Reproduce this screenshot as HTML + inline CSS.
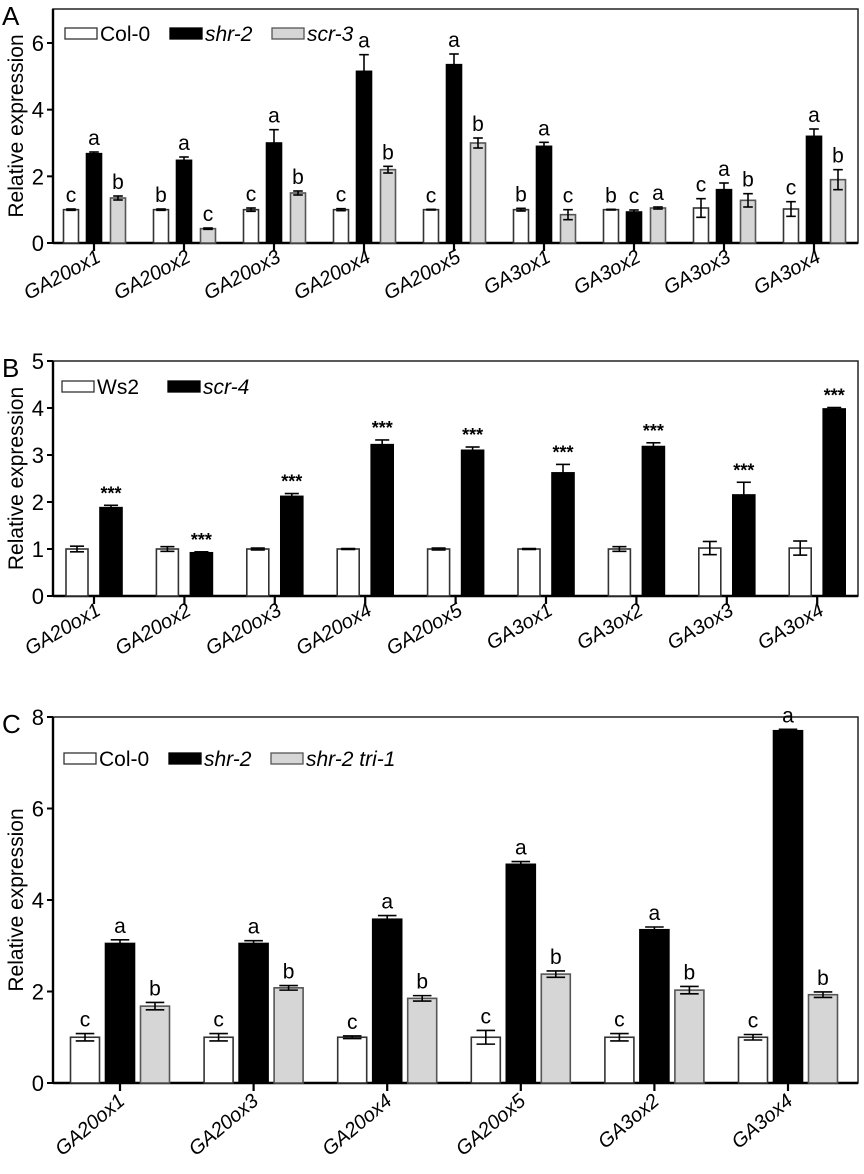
<!DOCTYPE html>
<html><head><meta charset="utf-8"><style>
body{margin:0;background:#fff;}
svg text{font-family:"Liberation Sans",sans-serif;fill:#000;}
</style></head><body>
<svg id="fig" width="864" height="1169" xmlns="http://www.w3.org/2000/svg"></svg>
<script>
const catsA=["GA20ox1","GA20ox2","GA20ox3","GA20ox4","GA20ox5","GA3ox1","GA3ox2","GA3ox3","GA3ox4"];
const aCol=[1,1,1,1,1,1,1,1.05,1.02];
const aColErr=[0.02,0.02,0.05,0.03,0.01,0.04,0.01,0.28,0.22];
const aShr=[2.68,2.48,3.0,5.15,5.35,2.9,0.93,1.6,3.2];
const aShrErr=[0.05,0.1,0.4,0.5,0.32,0.12,0.06,0.2,0.22];
const aScr=[1.35,0.43,1.5,2.2,3.0,0.85,1.05,1.28,1.9];
const aScrErr=[0.06,0.02,0.06,0.1,0.15,0.15,0.03,0.2,0.3];
const aLetters=[["c","a","b"],["b","a","c"],["c","a","b"],["c","a","b"],["c","a","b"],["b","a","c"],["b","c","a"],["c","a","b"],["c","a","b"]];
const aTicks=[0,2,4,6];
const catsB=catsA;
const bWs=[1,1,1,1,1,1,1,1.02,1.02];
const bWsErr=[0.06,0.05,0.02,0.01,0.02,0.01,0.05,0.14,0.15];
const bScr=[1.88,0.92,2.12,3.22,3.1,2.62,3.18,2.15,3.98];
const bScrErr=[0.05,0.02,0.06,0.1,0.07,0.18,0.08,0.27,0.03];
const bTicks=[0,1,2,3,4,5];
const catsC=["GA20ox1","GA20ox3","GA20ox4","GA20ox5","GA3ox2","GA3ox4"];
const cCol=[1,1,1,1,1,1];
const cColErr=[0.08,0.08,0.03,0.15,0.08,0.06];
const cShr=[3.05,3.05,3.58,4.78,3.35,7.7];
const cShrErr=[0.08,0.06,0.08,0.06,0.06,0.03];
const cTri=[1.68,2.08,1.85,2.38,2.03,1.93];
const cTriErr=[0.08,0.05,0.06,0.07,0.08,0.06];
const cTicks=[0,2,4,6,8];

const svg=document.getElementById('fig');
const NS="http://www.w3.org/2000/svg";
function el(tag,attrs,parent,txt){const e=document.createElementNS(NS,tag);for(const k in attrs)e.setAttribute(k,attrs[k]);if(txt!==undefined)e.textContent=txt;(parent||svg).appendChild(e);return e;}
const FILLS=["#fff","#000","#d6d6d6"];
const STROKES=["#333","#000","#555"];

function panel(cfg){
  const g=el('g',{});
  
  
  const y=v=>cfg.y0-(v/cfg.max)*(cfg.y0-cfg.top);
  const x=i=>cfg.x0+i*cfg.step;
  const fr=el('rect',{x:53,y:cfg.top,width:805,height:cfg.y0-cfg.top,fill:'none',stroke:'#222','stroke-width':1.5},g);
  
  el('line',{x1:53,y1:cfg.y0,x2:858,y2:cfg.y0,stroke:'#000','stroke-width':2.4},g);
  el('line',{x1:53,y1:cfg.top,x2:53,y2:cfg.y0,stroke:'#000','stroke-width':2.4},g);
  cfg.ticks.forEach(t=>{
    el('line',{x1:47,y1:y(t),x2:53,y2:y(t),stroke:'#000','stroke-width':2},g);
    const tl=el('text',{x:44,y:y(t)+8,'text-anchor':'end','font-size':22},g,String(t));
    
  });
  const yt=el('text',{x:0,y:0,transform:`translate(23,${(cfg.top+cfg.y0)/2}) rotate(-90)`,'text-anchor':'middle','font-size':21},g,'Relative expression');
  
  const pl=el('text',{x:2,y:cfg.top+16,'font-size':26},g,cfg.letter);
  
  cfg.cats.forEach((c,i)=>{
    el('line',{x1:x(i),y1:cfg.y0,x2:x(i),y2:cfg.y0+8,stroke:'#000','stroke-width':2.2},g);
    const lx=x(i)+cfg.labDx, ly=cfg.y0+cfg.labDy;
    const xl=el('text',{x:lx,y:ly,transform:`rotate(${cfg.rot} ${lx} ${ly})`,'text-anchor':'end','font-size':20,'font-style':'italic'},g,c);
    
    cfg.series.forEach((s,k)=>{
      const bx=x(i)+cfg.offs[k]-cfg.bw/2, v=s.vals[i], e=s.errs[i];
      const b=el('rect',{x:bx,y:y(v),width:cfg.bw,height:cfg.y0-y(v),fill:FILLS[s.style],stroke:STROKES[s.style],'stroke-width':1.6},g);
      
      const cx=x(i)+cfg.offs[k];
      const cw=cfg.bw*0.32;
      el('line',{x1:cx,y1:y(v+e),x2:cx,y2:y(Math.max(0,v-e)),stroke:'#000','stroke-width':1.6},g);
      el('line',{x1:cx-cw,y1:y(v+e),x2:cx+cw,y2:y(v+e),stroke:'#000','stroke-width':1.6},g);
      if(s.style!==1) el('line',{x1:cx-cw,y1:y(v-e),x2:cx+cw,y2:y(v-e),stroke:'#000','stroke-width':1.6},g);
      const lab=cfg.labels?cfg.labels(i,k):null;
      if(lab){const t=el('text',{x:cx,y:y(v+e)-(lab==='***'?6:7),'text-anchor':'middle','font-size':lab==='***'?18:21,'font-weight':lab==='***'?'bold':'normal'},g,lab);
        }
    });
  });
  cfg.legend.forEach(L=>{
    const lg=el('g',{},g);
    
    el('rect',{x:L.x,y:cfg.legY-5,width:32,height:11,fill:FILLS[L.style],stroke:STROKES[L.style],'stroke-width':1.3},lg);
    el('text',{x:L.x+35,y:cfg.legY+8,'font-size':21,'font-style':L.it?'italic':'normal'},lg,L.t);
  });
}

panel({name:'panel-a',letter:'A',top:9,y0:243,max:7.02,x0:94,step:90,bw:15,offs:[-23,0,24],ticks:aTicks,cats:catsA,rot:-28,labDx:8,labDy:18,
 series:[{key:'col0',style:0,vals:aCol,errs:aColErr},{key:'shr2',style:1,vals:aShr,errs:aShrErr},{key:'scr3',style:2,vals:aScr,errs:aScrErr}],
 labels:(i,k)=>aLetters[i][k],legY:33,
 legend:[{x:65,style:0,t:'Col-0'},{x:170,style:1,t:'shr-2',it:1},{x:272,style:2,t:'scr-3',it:1}]});

panel({name:'panel-b',letter:'B',top:361,y0:596,max:5,x0:94,step:90.4,bw:22,offs:[-17,17],ticks:bTicks,cats:catsB,rot:-30,labDx:8,labDy:18,
 series:[{key:'ws2',style:0,vals:bWs,errs:bWsErr},{key:'scr4',style:1,vals:bScr,errs:bScrErr}],
 labels:(i,k)=>k===1?'***':null,legY:386,
 legend:[{x:62,style:0,t:'Ws2'},{x:168,style:1,t:'scr-4',it:1}]});

panel({name:'panel-c',letter:'C',top:717,y0:1083,max:8,x0:120,step:133.6,bw:29,offs:[-35,0,35],ticks:cTicks,cats:catsC,rot:-40,labDx:6,labDy:20,
 series:[{key:'col0',style:0,vals:cCol,errs:cColErr},{key:'shr2',style:1,vals:cShr,errs:cShrErr},{key:'tri1',style:2,vals:cTri,errs:cTriErr}],
 labels:(i,k)=>['c','a','b'][k],legY:758,
 legend:[{x:64,style:0,t:'Col-0'},{x:169,style:1,t:'shr-2',it:1},{x:271,style:2,t:'shr-2 tri-1',it:1}]});
</script>
</body></html>
